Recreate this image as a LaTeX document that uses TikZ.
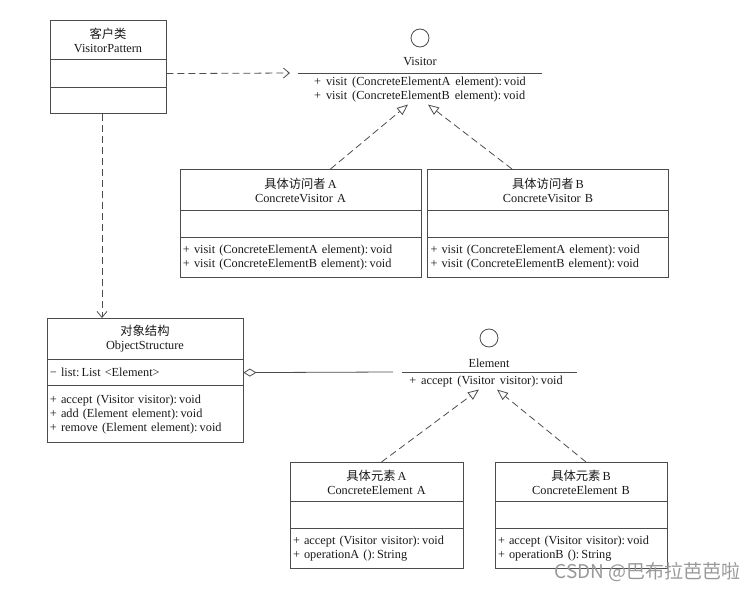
\documentclass[tikz,border=0pt]{standalone}
\usepackage{fontspec}
\setmainfont{Liberation Serif}[WordSpace=1.6]
\newfontfamily\cjk{Noto Sans CJK SC}
\usepackage{tikz}
\usetikzlibrary{matrix,calc,arrows.meta,positioning}

\begin{document}
\begin{tikzpicture}[x=1pt, y=-1pt, font=\fontsize{12.3}{14}\selectfont,
class_box/.style={matrix of nodes, inner sep=0pt, row sep=-0.8pt, nodes in empty cells,
  nodes={draw=black!70, line width=0.8pt, text width=#1, inner xsep=3pt, inner ysep=1pt, align=left, text=black!90}},
heights/.style n args={3}{row 1/.style={nodes={minimum height=#1, align=center}},
  row 2/.style={nodes={minimum height=#2}},
  row 3/.style={nodes={minimum height=#3}}}]

   \tikzstyle{uml}=[color=black!70, line width=0.8pt]
   \tikzstyle{lolli}=[draw=black!70, line width=0.8pt, circle, minimum size=18pt, inner sep=0pt]
   \tikzstyle{dep}=[uml, dash pattern=on 7pt off 4pt, -{Straight Barb[length=6pt,width=10pt]}]
   \tikzstyle{real}=[uml, dash pattern=on 7pt off 4pt, -{Triangle[open,length=11pt,width=9pt]}]
   \tikzstyle{assoc}=[uml, {Diamond[open,length=13pt,width=8pt]}-]

   \useasboundingbox (0,0) rectangle (756,594);

    \matrix[class_box=110, heights={39}{28}{26}, anchor=north] at (108,20) (VP) {
        {{\cjk 客户类}\\VisitorPattern} \\
        \\
        \\};

    % Visitor interface
    \node[lolli] (Vc) at (420,38) {};
    \node[text=black!90] (Vn) at (420,62) {Visitor};
    \coordinate (Vw) at (298,73);
    \coordinate (Ve) at (542,73);
    \draw[uml] (Vw) -- (Ve);
    \node[align=left, anchor=north, inner sep=2pt, text=black!90] (Vm) at (420,75) {
        + visit (ConcreteElementA element):\,void\\
        + visit (ConcreteElementB element):\,void};

    \path [dep] (VP-2-1.east) edge ([xshift=-8]Vw);

    \matrix[class_box=235, heights={41}{27}{40}, anchor=north] at (300.5,169) (CVA) {
        {{\cjk 具体访问者}\,A\\ConcreteVisitor A} \\
        \\
        {+ visit (ConcreteElementA element):\,void\\+ visit (ConcreteElementB element):\,void} \\};
    \matrix[class_box=235, heights={41}{27}{40}, anchor=north] at (548,169) (CVB) {
        {{\cjk 具体访问者}\,B\\ConcreteVisitor B} \\
        \\
        {+ visit (ConcreteElementA element):\,void\\+ visit (ConcreteElementB element):\,void} \\};

    \path [real] ([xshift=30]CVA.north) edge ([xshift=-12]Vm.south)
                 ([xshift=-36]CVB.north) edge ([xshift=8]Vm.south);

    \matrix[class_box=190, heights={41}{26}{57}, anchor=north] at (145,318) (OS) {
        {{\cjk 对象结构}\\ObjectStructure} \\
        − list:\,List <Element> \\
        {+ accept (Visitor visitor):\,void\\+ add (Element element):\,void\\+ remove (Element element):\,void} \\};

    \path [dep] ([xshift=-6]VP.south) edge ([xshift=-6]VP.south |- OS.north);

    % Element interface
    \node[lolli] (Ec) at (489,338) {};
    \node[text=black!90] (En) at (489,363) {Element};
    \coordinate (Ew) at (402,372);
    \coordinate (Ee) at (577,372);
    \draw[uml] (Ew) -- (Ee);
    \node[anchor=north, inner sep=2pt, text=black!90] (Em) at (486,374) {+ accept (Visitor visitor):\,void};

    \path [assoc] (OS-2-1.east) edge ([xshift=-9]Ew);

    \matrix[class_box=167, heights={39}{27}{40}, anchor=north] at (376.5,462) (CEA) {
        {{\cjk 具体元素}\,A\\ConcreteElement A} \\
        \\
        {+ accept (Visitor visitor):\,void\\+ operationA ():\,String} \\};
    \matrix[class_box=166, heights={39}{27}{40}, anchor=north] at (581,462) (CEB) {
        {{\cjk 具体元素}\,B\\ConcreteElement B} \\
        \\
        {+ accept (Visitor visitor):\,void\\+ operationB ():\,String} \\};

    \path [real] ([xshift=5]CEA.north) edge ([xshift=-7]Em.south)
                 ([xshift=5]CEB.north) edge ([xshift=11]Em.south);

    \node[font=\cjk\fontsize{19}{19}\selectfont, text=black!40, anchor=east] (wm) at (744,572) {CSDN @巴布拉芭芭啦};

\end{tikzpicture}
\end{document}
